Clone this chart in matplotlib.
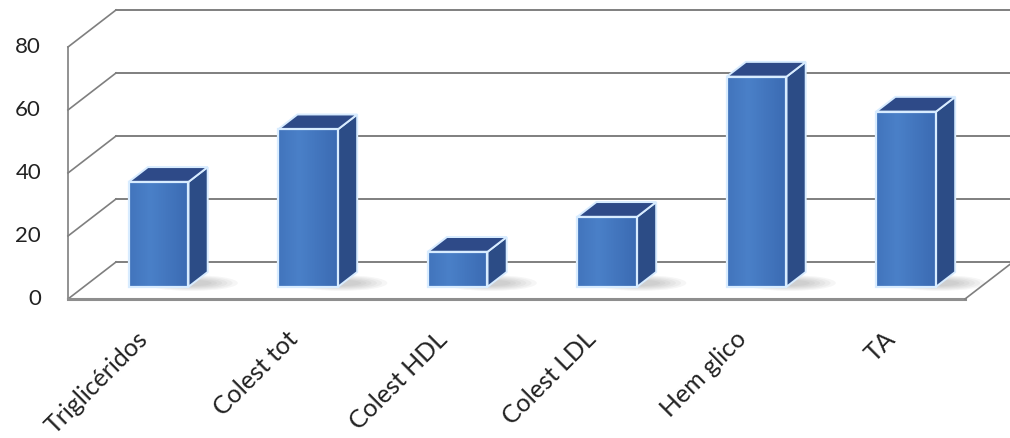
import numpy as np
import matplotlib.pyplot as plt
from matplotlib.colors import LinearSegmentedColormap
from matplotlib.patches import Polygon, Rectangle, Ellipse

plt.rcParams['font.family'] = ['Lato', 'DejaVu Sans']

categorias = ['Triglicéridos', 'Colest tot', 'Colest HDL', 'Colest LDL', 'Hem glico', 'TA']
valores = [33.3, 50.0, 11.1, 22.2, 66.7, 55.6]
ticks_y = [0, 20, 40, 60, 80]

# pixel geometry of the pseudo-3d box
W, H = 1010, 438
PX_CAT = 149.5          # px per category slot
PX_VAL = 3.15           # px per value unit
X0, Y0 = 68, 139        # front origin, px from left / bottom
DX = 48 / PX_CAT        # depth offset in x units
DY = 37 / PX_VAL        # depth offset in value units
T0 = 0.33               # where bars start in depth
BW = 0.4                # bar width (slot fraction)
BD = 0.4                # bar depth (fraction of full depth)

fig = plt.figure(figsize=(W / 100, H / 100), dpi=100)
ax = fig.add_axes([0, 0, 1, 1])
ax.set_xlim(-X0 / PX_CAT, (W - X0) / PX_CAT)
ax.set_ylim(-Y0 / PX_VAL, (H - Y0) / PX_VAL)
ax.axis('off')

n = len(categorias)
grid_c = '#7f7f7f'

# walls and gridlines
for v in ticks_y:
    ax.plot([0, DX], [v, v + DY], color=grid_c, lw=1.2, zorder=1)
    ax.plot([DX, n + DX], [v + DY, v + DY], color=grid_c, lw=1.4, zorder=1)
ax.plot([0, 0], [0, ticks_y[-1]], color=grid_c, lw=1.2, zorder=1)

# floor
ax.plot([0, n], [0, 0], color='#8e8e8e', lw=2.2, zorder=1)
ax.plot([n, n + DX], [0, DY], color=grid_c, lw=1.2, zorder=1)

# y tick labels
for v in ticks_y:
    ax.text(-0.18, v, str(v), ha='right', va='center', fontsize=16, color='#222222')

grad = np.linspace(0, 1, 50)
grad = np.vstack([1 - np.abs(grad - 0.35) * 1.2] * 2)
cmap = LinearSegmentedColormap.from_list('b', ['#3765ad', '#4a80c8'])

for i, (cat, v) in enumerate(zip(categorias, valores)):
    xl = i + 0.5 - BW / 2 + T0 * DX
    yb = T0 * DY
    xr = xl + BW
    ddx, ddy = BD * DX, BD * DY

    # soft shadow on the floor
    for k in range(6):
        w = 0.62 - k * 0.07
        h = 5.0 - k * 0.6
        sh = Ellipse((xr + 0.02, yb + 1.2), w, h, facecolor='#555555',
                     edgecolor='none', alpha=0.05, zorder=2)
        ax.add_patch(sh)

    side = Polygon([(xr, yb), (xr + ddx, yb + ddy), (xr + ddx, yb + v + ddy), (xr, yb + v)],
                   closed=True, facecolor='#2c4c86', edgecolor='#d8ecff', lw=1.4, zorder=3)
    top = Polygon([(xl, yb + v), (xr, yb + v), (xr + ddx, yb + v + ddy), (xl + ddx, yb + v + ddy)],
                  closed=True, facecolor='#2e4a88', edgecolor='#d8ecff', lw=1.4, zorder=3)
    ax.add_patch(side)
    ax.add_patch(top)

    front = Rectangle((xl, yb), BW, v, facecolor='none', edgecolor='#d8ecff', lw=1.6, zorder=5)
    ax.add_patch(front)
    im = ax.imshow(grad, extent=(xl, xr, yb, yb + v), cmap=cmap,
                   vmin=0, vmax=1, aspect='auto', zorder=4)
    im.set_clip_path(front)

    ax.text(i + 0.455, -9.0, cat, rotation=45, rotation_mode='anchor',
            ha='right', va='top', fontsize=18, color='#222222')

ax.set_xlim(-X0 / PX_CAT, (W - X0) / PX_CAT)
ax.set_ylim(-Y0 / PX_VAL, (H - Y0) / PX_VAL)

fig.savefig('out.png', dpi=100)
